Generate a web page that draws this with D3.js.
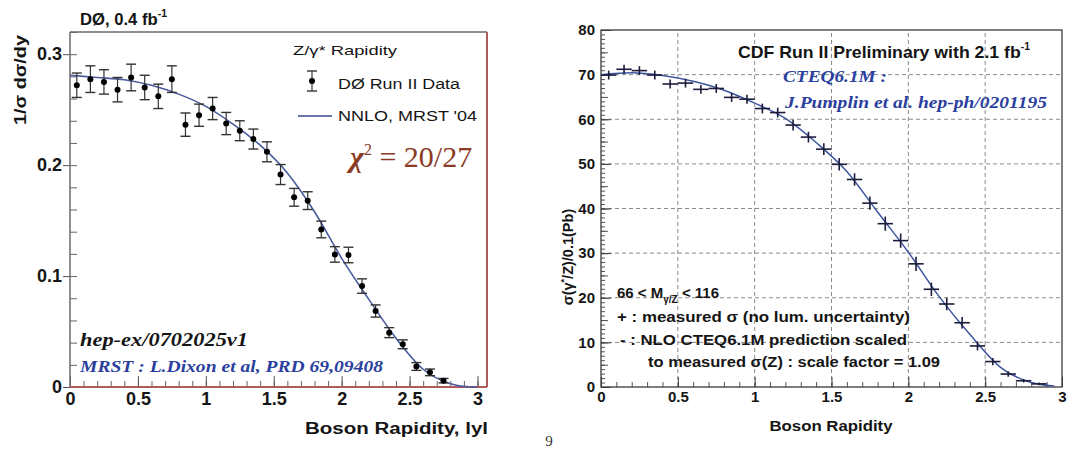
<!DOCTYPE html>
<html>
<head>
<meta charset="utf-8">
<script src="https://cdn.jsdelivr.net/npm/d3@7"></script>
<style>
  body { margin: 0; background: #fff; }
  svg { display: block; }
</style>
</head>
<body>
<svg id="chart" width="1072" height="450"></svg>
<script>
'use strict';

// ---- left panel: D0 Z/gamma* rapidity, normalised ----
var d0Rap = [0.05, 0.15, 0.25, 0.35, 0.45, 0.55, 0.65, 0.75, 0.85, 0.95,
             1.05, 1.15, 1.25, 1.35, 1.45, 1.55, 1.65, 1.75, 1.85, 1.95,
             2.05, 2.15, 2.25, 2.35, 2.45, 2.55, 2.65, 2.75];
var d0Val = [0.272, 0.2775, 0.275, 0.268, 0.279, 0.270, 0.262, 0.2775, 0.2365, 0.245,
             0.251, 0.2375, 0.231, 0.2235, 0.212, 0.1915, 0.171, 0.168, 0.142, 0.1195,
             0.119, 0.091, 0.0685, 0.049, 0.0385, 0.0185, 0.0132, 0.0057];
var d0Err = [0.011, 0.012, 0.011, 0.011, 0.012, 0.011, 0.011, 0.012, 0.0105, 0.010,
             0.010, 0.010, 0.009, 0.009, 0.009, 0.009, 0.008, 0.008, 0.0075, 0.007,
             0.007, 0.0065, 0.0055, 0.0045, 0.004, 0.0035, 0.003, 0.002];
var nnloRap = [0, 0.2, 0.4, 0.6, 0.8, 1.0, 1.2, 1.4, 1.6, 1.8, 2.0, 2.2, 2.4, 2.6, 2.8, 2.95, 3.0];
var nnloVal = [0.281, 0.279, 0.277, 0.272, 0.264, 0.253, 0.237, 0.218, 0.193, 0.158,
               0.116, 0.079, 0.044, 0.016, 0.003, 0.0, 0.0];
var leftXTicks = [0, 0.5, 1, 1.5, 2, 2.5, 3];
var leftYTicks = [0, 0.1, 0.2, 0.3];

// ---- right panel: CDF d sigma / dy ----
var cdfRap = [0.05, 0.15, 0.25, 0.35, 0.45, 0.55, 0.65, 0.75, 0.85, 0.95,
              1.05, 1.15, 1.25, 1.35, 1.45, 1.55, 1.65, 1.75, 1.85, 1.95,
              2.05, 2.15, 2.25, 2.35, 2.45, 2.55, 2.65, 2.75, 2.85];
var cdfVal = [69.9, 71.2, 70.9, 69.9, 67.9, 68.1, 66.7, 66.9, 64.9, 64.5,
              62.4, 61.5, 58.7, 56.0, 53.3, 49.9, 46.5, 41.2, 36.6, 32.8,
              27.6, 21.9, 18.6, 14.4, 9.2, 5.7, 2.9, 1.4, 0.7];
var cdfErr = [1.0, 1.0, 1.0, 1.0, 1.0, 1.0, 1.0, 1.0, 1.0, 1.0,
              1.1, 1.1, 1.2, 1.2, 1.3, 1.4, 1.4, 1.5, 1.6, 1.6,
              1.6, 1.5, 1.4, 1.3, 1.0, 0.8, 0.6, 0.4, 0.3];
var cteqRap = [0, 0.2, 0.4, 0.6, 0.8, 1.0, 1.2, 1.4, 1.6, 1.8, 2.0, 2.2, 2.4, 2.6, 2.8, 2.95];
var cteqVal = [70.0, 70.4, 69.8, 68.5, 66.5, 63.6, 60.2, 54.8, 48.3, 39.2, 30.2, 20.3, 11.8, 4.4, 1.0, 0.2];
var rightXTicks = [0, 0.5, 1, 1.5, 2, 2.5, 3];
var rightYTicks = [0, 10, 20, 30, 40, 50, 60, 70, 80];

var SANS = "'Liberation Sans', Arial, Helvetica, sans-serif";
var SERIF = "'Liberation Serif', 'Times New Roman', serif";

var svg = d3.select("#chart");

// small helper for labels; len stretches the text to the width seen in the picture
function label(g, x, y, str, o) {
    var t = g.append("text")
        .attr("x", x).attr("y", y)
        .attr("font-family", o.family || SANS)
        .attr("font-size", o.size)
        .attr("font-weight", o.weight || "bold")
        .attr("fill", o.color || "#151515")
        .attr("text-anchor", o.anchor || "start")
        .text(str);
    if (o.italic) t.attr("font-style", "italic");
    if (o.len) t.attr("textLength", o.len).attr("lengthAdjust", "spacingAndGlyphs");
    return t;
}

function styleAxis(g, size, color) {
    g.select(".domain").remove();
    g.selectAll(".tick line").attr("stroke", color);
    g.attr("font-family", SANS).attr("font-size", size).attr("font-weight", "bold");
    g.selectAll(".tick text").attr("fill", "#151515");
}

// ================= LEFT PANEL =================
var gL = svg.append("g");
var xL = d3.scaleLinear().domain([0, 3.07]).range([70, 487]);
var yL = d3.scaleLinear().domain([0, 0.32]).range([387, 32]);

// minor ticks (inside)
gL.append("g").attr("transform", "translate(0,387)")
    .call(d3.axisBottom(xL).tickValues(d3.range(0, 31).map(function (i) { return i / 10; }))
        .tickSize(-6).tickFormat(""))
    .call(styleAxis, 10, "#666");
gL.append("g").attr("transform", "translate(70,0)")
    .call(d3.axisLeft(yL).tickValues(d3.range(0, 17).map(function (i) { return i * 0.02; }))
        .tickSize(-7).tickFormat(""))
    .call(styleAxis, 10, "#666");

// major ticks + labels
gL.append("g").attr("transform", "translate(0,387)")
    .call(d3.axisBottom(xL).tickValues(leftXTicks).tickSize(-11).tickPadding(5)
        .tickFormat(d3.format("~g")))
    .call(styleAxis, 18, "#555");
gL.append("g").attr("transform", "translate(70,0)")
    .call(d3.axisLeft(yL).tickValues(leftYTicks).tickSize(7).tickPadding(1)
        .tickFormat(d3.format("~g")))
    .call(styleAxis, 18, "#555");

// frame: grey left/top, reddish right/bottom
gL.append("line").attr("x1", 70).attr("x2", 70).attr("y1", 32).attr("y2", 387)
    .attr("stroke", "#6a6a6a").attr("stroke-width", 1.5);
gL.append("line").attr("x1", 70).attr("x2", 487).attr("y1", 32).attr("y2", 32)
    .attr("stroke", "#6a6a6a").attr("stroke-width", 1.5);
gL.append("line").attr("x1", 487).attr("x2", 487).attr("y1", 32).attr("y2", 387)
    .attr("stroke", "#b05a5a").attr("stroke-width", 2);
gL.append("line").attr("x1", 70).attr("x2", 487).attr("y1", 387).attr("y2", 387)
    .attr("stroke", "#b05a5a").attr("stroke-width", 2);

// theory curve
var nnloLine = d3.line()
    .x(function (d, i) { return xL(nnloRap[i]); })
    .y(function (d) { return yL(d); })
    .curve(d3.curveMonotoneX);
gL.append("path").datum(nnloVal)
    .attr("d", nnloLine)
    .attr("fill", "none").attr("stroke", "#4a5c9e").attr("stroke-width", 1.6);

// data with error bars
var d0 = gL.append("g").selectAll("g").data(d0Val).join("g");
d0.append("line")
    .attr("x1", function (d, i) { return xL(d0Rap[i]); })
    .attr("x2", function (d, i) { return xL(d0Rap[i]); })
    .attr("y1", function (d, i) { return yL(d + d0Err[i]); })
    .attr("y2", function (d, i) { return yL(d - d0Err[i]); })
    .attr("stroke", "#333").attr("stroke-width", 1.2);
[1, -1].forEach(function (s) {
    d0.append("line")
        .attr("x1", function (d, i) { return xL(d0Rap[i]) - 5; })
        .attr("x2", function (d, i) { return xL(d0Rap[i]) + 5; })
        .attr("y1", function (d, i) { return yL(d + s * d0Err[i]); })
        .attr("y2", function (d, i) { return yL(d + s * d0Err[i]); })
        .attr("stroke", "#333").attr("stroke-width", 1.4);
});
d0.append("circle")
    .attr("cx", function (d, i) { return xL(d0Rap[i]); })
    .attr("cy", function (d) { return yL(d); })
    .attr("r", 3).attr("fill", "#000");

// titles
var t1 = label(gL, 80, 25, "DØ, 0.4 fb", { size: 16, len: 87 });
t1.append("tspan").attr("dy", -8).attr("font-size", 10).text("-1");
label(gL, 0, 0, "1/σ dσ/dy", { size: 17, anchor: "middle", len: 90 })
    .attr("transform", "translate(26,80) rotate(-90)");
label(gL, 488, 434, "Boson Rapidity, lyl", { size: 16, anchor: "end", len: 183 });

// legend
label(gL, 293, 55, "Z/γ* Rapidity", { size: 13, weight: "normal", len: 104 });
gL.append("line").attr("x1", 312).attr("x2", 312).attr("y1", 71).attr("y2", 91)
    .attr("stroke", "#333").attr("stroke-width", 1.2);
gL.append("line").attr("x1", 307).attr("x2", 317).attr("y1", 71).attr("y2", 71)
    .attr("stroke", "#333").attr("stroke-width", 1.4);
gL.append("line").attr("x1", 307).attr("x2", 317).attr("y1", 91).attr("y2", 91)
    .attr("stroke", "#333").attr("stroke-width", 1.4);
gL.append("circle").attr("cx", 312).attr("cy", 81).attr("r", 3).attr("fill", "#000");
label(gL, 338, 89, "DØ Run II Data", { size: 14, weight: "normal", len: 122 });
gL.append("line").attr("x1", 298).attr("x2", 332).attr("y1", 116).attr("y2", 116)
    .attr("stroke", "#6a74a8").attr("stroke-width", 2);
label(gL, 338, 121, "NNLO, MRST '04", { size: 14, weight: "normal", len: 139 });

var chi = gL.append("text").attr("x", 350).attr("y", 167)
    .attr("font-family", SERIF).attr("font-size", 30).attr("fill", "#8b3a24");
chi.append("tspan").attr("font-style", "italic").attr("font-weight", "bold").text("χ");
chi.append("tspan").attr("dy", -12).attr("font-size", 16).text("2");
chi.append("tspan").attr("dy", 12).text(" = 20/27");

label(gL, 80, 346, "hep-ex/0702025v1", { size: 19, family: SERIF, italic: true, len: 168 });
label(gL, 80, 372, "MRST : L.Dixon et al, PRD 69,09408",
    { size: 16, family: SERIF, italic: true, color: "#2b3f9e", len: 303 });

// page number
label(svg, 549, 446, "9", { size: 15, family: SERIF, weight: "normal", anchor: "middle", color: "#333" });

// ================= RIGHT PANEL =================
var gR = svg.append("g");
var xR = d3.scaleLinear().domain([0, 3]).range([601, 1062]);
var yR = d3.scaleLinear().domain([0, 80]).range([387, 30]);

// dashed grid
gR.append("g").selectAll("line").data(rightXTicks.filter(function (v) { return v > 0 && v < 3; }))
    .join("line")
    .attr("x1", function (d) { return xR(d); }).attr("x2", function (d) { return xR(d); })
    .attr("y1", yR(0)).attr("y2", yR(80))
    .attr("stroke", "#8a8a8a").attr("stroke-dasharray", "4,3");
gR.append("g").selectAll("line").data(rightYTicks.filter(function (v) { return v > 0 && v < 80; }))
    .join("line")
    .attr("x1", xR(0)).attr("x2", xR(3))
    .attr("y1", function (d) { return yR(d); }).attr("y2", function (d) { return yR(d); })
    .attr("stroke", "#8a8a8a").attr("stroke-dasharray", "4,3");

// ticks
gR.append("g").attr("transform", "translate(0,387)")
    .call(d3.axisBottom(xR).tickValues(d3.range(0, 31).map(function (i) { return i / 10; }))
        .tickSize(-5).tickFormat(""))
    .call(styleAxis, 10, "#555");
gR.append("g").attr("transform", "translate(601,0)")
    .call(d3.axisLeft(yR).tickValues(d3.range(0, 81))
        .tickSize(-4).tickFormat(""))
    .call(styleAxis, 10, "#555");
gR.append("g").attr("transform", "translate(601,0)")
    .call(d3.axisLeft(yR).tickValues(d3.range(0, 81, 5))
        .tickSize(-7).tickFormat(""))
    .call(styleAxis, 10, "#555");
gR.append("g").attr("transform", "translate(0,387)")
    .call(d3.axisBottom(xR).tickValues(rightXTicks).tickSize(-10).tickPadding(4)
        .tickFormat(d3.format("~g")))
    .call(styleAxis, 15, "#444");
gR.append("g").attr("transform", "translate(601,0)")
    .call(d3.axisLeft(yR).tickValues(rightYTicks).tickSize(-10).tickPadding(6)
        .tickFormat(d3.format("~g")))
    .call(styleAxis, 15, "#444");
// axisLeft with negative size puts labels at -padding; keep them left of the axis
gR.selectAll("text").filter(function () { return this.getAttribute("x") === "6"; })
    .attr("x", -6);

gR.append("rect").attr("x", xR(0)).attr("y", yR(80))
    .attr("width", xR(3) - xR(0)).attr("height", yR(0) - yR(80))
    .attr("fill", "none").attr("stroke", "#3a3a3a").attr("stroke-width", 1.3);

// CTEQ curve
var cteqLine = d3.line()
    .x(function (d, i) { return xR(cteqRap[i]); })
    .y(function (d) { return yR(d); })
    .curve(d3.curveMonotoneX);
gR.append("path").datum(cteqVal)
    .attr("d", cteqLine)
    .attr("fill", "none").attr("stroke", "#3d55a0").attr("stroke-width", 1.5);

// crosses: horizontal = bin width, vertical = error
var cdf = gR.append("g").selectAll("g").data(cdfVal).join("g")
    .attr("stroke", "#1c1c3c").attr("stroke-width", 1.6);
cdf.append("line")
    .attr("x1", function (d, i) { return xR(cdfRap[i] - 0.05); })
    .attr("x2", function (d, i) { return xR(cdfRap[i] + 0.05); })
    .attr("y1", function (d) { return yR(d); })
    .attr("y2", function (d) { return yR(d); });
cdf.append("line")
    .attr("x1", function (d, i) { return xR(cdfRap[i]); })
    .attr("x2", function (d, i) { return xR(cdfRap[i]); })
    .attr("y1", function (d, i) { return yR(d + cdfErr[i]); })
    .attr("y2", function (d, i) { return yR(d - cdfErr[i]); });

// texts
var t2 = label(gR, 738, 58, "CDF Run II Preliminary with 2.1 fb", { size: 17, len: 292 });
t2.append("tspan").attr("dy", -8).attr("font-size", 10).text("-1");
label(gR, 783, 82, "CTEQ6.1M :", { size: 17, family: SERIF, italic: true, color: "#2b3f9e", len: 104 });
label(gR, 785, 108, "J.Pumplin et al. hep-ph/0201195",
    { size: 17, family: SERIF, italic: true, color: "#2b3f9e", len: 262 });

var mt = gR.append("text").attr("x", 617).attr("y", 298)
    .attr("font-family", SANS).attr("font-size", 15).attr("font-weight", "bold").attr("fill", "#151515");
mt.append("tspan").text("66 < M");
mt.append("tspan").attr("dy", 5).attr("font-size", 10).text("γ/Z");
mt.append("tspan").attr("dy", -5).text(" < 116");
label(gR, 617, 322, "+ : measured σ (no lum. uncertainty)", { size: 14, len: 293 });
label(gR, 620, 345, "- : NLO CTEQ6.1M prediction scaled", { size: 14, len: 287 });
label(gR, 648, 367, "to measured σ(Z) : scale factor = 1.09", { size: 14, len: 292 });

label(gR, 831, 431, "Boson Rapidity", { size: 14, anchor: "middle", len: 123 });

var yt = gR.append("text").attr("transform", "translate(573,257) rotate(-90)")
    .attr("text-anchor", "middle")
    .attr("font-family", SANS).attr("font-size", 14.5).attr("font-weight", "bold").attr("fill", "#151515");
yt.append("tspan").text("σ(γ");
yt.append("tspan").attr("dy", -6).attr("font-size", 9).text("*");
yt.append("tspan").attr("dy", 6).text("/Z)/0.1(Pb)");
</script>
</body>
</html>
